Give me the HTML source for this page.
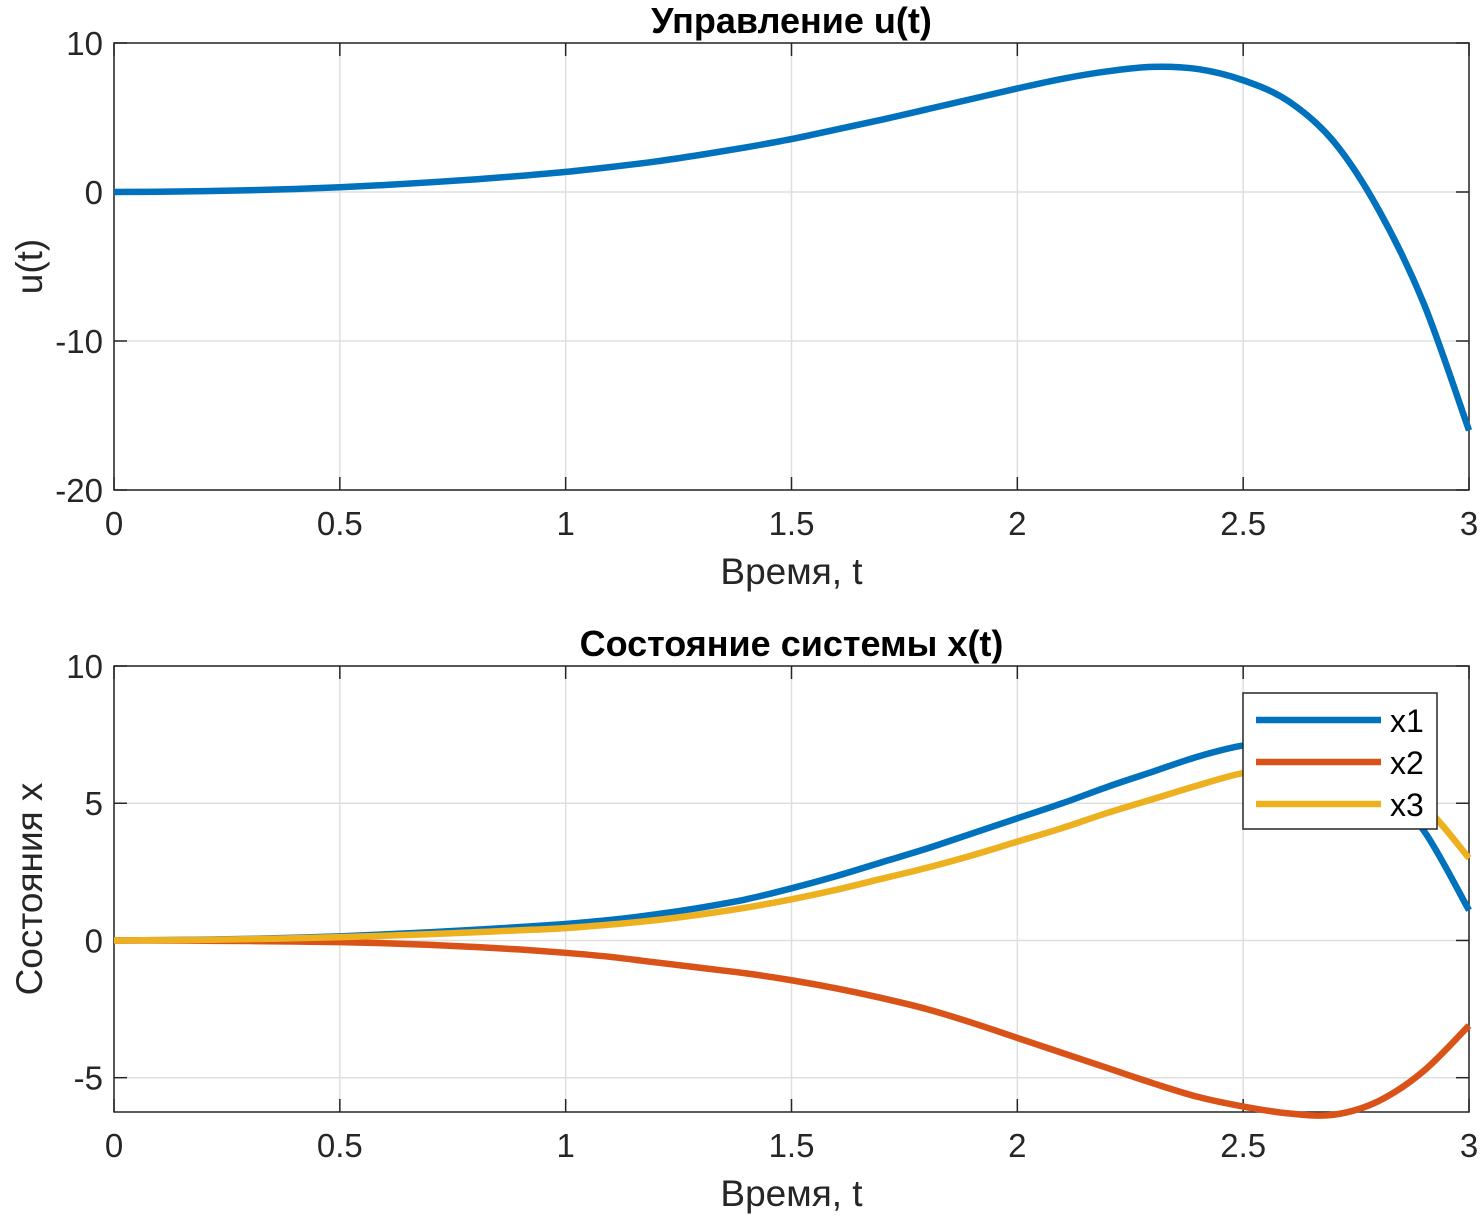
<!DOCTYPE html>
<html><head><meta charset="utf-8"><style>
body{margin:0;background:#fff}
svg text{font-family:"Liberation Sans","DejaVu Sans",sans-serif;fill:#262626}
</style></head><body>
<svg id="c" width="1481" height="1218" xmlns="http://www.w3.org/2000/svg"></svg>
<script>
const tVals=[0,0.1,0.2,0.3,0.4,0.5,0.6,0.7,0.8,0.9,1.0,1.1,1.2,1.3,1.4,1.5,1.6,1.7,1.8,1.9,2.0,2.1,2.2,2.3,2.4,2.5,2.6,2.7,2.8,2.9,3.0];
const uVals=[0,0.02,0.06,0.12,0.2,0.32,0.47,0.65,0.85,1.08,1.35,1.68,2.05,2.5,3.0,3.55,4.2,4.85,5.55,6.25,6.95,7.6,8.1,8.4,8.25,7.5,6.1,3.4,-1.2,-7.5,-16];
const x1Vals=[0,0.01,0.03,0.06,0.1,0.15,0.22,0.3,0.39,0.49,0.6,0.75,0.95,1.2,1.5,1.9,2.35,2.85,3.35,3.9,4.45,5.0,5.6,6.15,6.7,7.1,7.2,6.8,5.8,4.0,1.1];
const x2Vals=[0,0,-0.01,-0.02,-0.04,-0.06,-0.1,-0.16,-0.24,-0.33,-0.45,-0.6,-0.8,-1.0,-1.2,-1.45,-1.75,-2.1,-2.5,-3.0,-3.55,-4.1,-4.65,-5.2,-5.7,-6.05,-6.3,-6.35,-5.85,-4.75,-3.1];
const x3Vals=[0,0.01,0.02,0.05,0.08,0.12,0.17,0.23,0.3,0.37,0.45,0.58,0.74,0.95,1.2,1.5,1.85,2.25,2.65,3.1,3.6,4.1,4.65,5.15,5.65,6.1,6.25,6.2,5.8,4.9,3.0];
const xTicks=[0,0.5,1,1.5,2,2.5,3];
const uTicks=[10,0,-10,-20];
const sTicks=[10,5,0,-5];
const svg=document.getElementById('c');
const NS='http://www.w3.org/2000/svg';
function mk(tag,attrs,name,parent){const e=document.createElementNS(NS,tag);for(const k in attrs)e.setAttribute(k,attrs[k]);


(parent||svg).appendChild(e);return e;}
function txt(s,attrs,name){const e=mk('text',attrs,name);e.textContent=s;return e;}
const L=114,R=1469;
const sx=t=>L+(t-0)/3*(R-L);
function pathD(xs,ys,fx,fy){const p=xs.map((t,i)=>[fx(t),fy(ys[i])]);let d='M'+p[0][0]+','+p[0][1];
for(let i=0;i<p.length-1;i++){const p0=p[Math.max(0,i-1)],p1=p[i],p2=p[i+1],p3=p[Math.min(p.length-1,i+2)];
d+=' C'+(p1[0]+(p2[0]-p0[0])/6)+','+(p1[1]+(p2[1]-p0[1])/6)+' '+(p2[0]-(p3[0]-p1[0])/6)+','+(p2[1]-(p3[1]-p1[1])/6)+' '+p2[0]+','+p2[1];}return d;}
function axes(top,bot,ymin,ymax,yt,prefix,title,ylabel){
 const sy=v=>bot-(v-ymin)/(ymax-ymin)*(bot-top);
 mk('rect',{x:L,y:top,width:R-L,height:bot-top,fill:'#fff'},prefix+'-plot-area');
 xTicks.forEach(t=>{mk('line',{x1:sx(t),x2:sx(t),y1:top,y2:bot,stroke:'#dfdfdf','stroke-width':1.5},prefix+'-x-grid');});
 yt.forEach(v=>{mk('line',{x1:L,x2:R,y1:sy(v),y2:sy(v),stroke:'#dfdfdf','stroke-width':1.5},prefix+'-y-grid');});
 mk('rect',{x:L,y:top,width:R-L,height:bot-top,fill:'none',stroke:'#262626','stroke-width':1.5},prefix+'-axes-box');
 xTicks.forEach(t=>{mk('line',{x1:sx(t),x2:sx(t),y1:bot,y2:bot-13,stroke:'#262626','stroke-width':1.5},prefix+'-x-tick');
  mk('line',{x1:sx(t),x2:sx(t),y1:top,y2:top+13,stroke:'#262626','stroke-width':1.5},prefix+'-x-tick-top');
  txt(String(t),{x:sx(t),y:bot+45,'font-size':33,'text-anchor':'middle'},prefix+'-x-tick-label');});
 yt.forEach(v=>{mk('line',{x1:L,x2:L+13,y1:sy(v),y2:sy(v),stroke:'#262626','stroke-width':1.5},prefix+'-y-tick');
  mk('line',{x1:R,x2:R-13,y1:sy(v),y2:sy(v),stroke:'#262626','stroke-width':1.5},prefix+'-y-tick-right');
  txt(String(v),{x:L-11,y:sy(v)+12,'font-size':33,'text-anchor':'end'},prefix+'-y-tick-label');});
 txt(title,{x:(L+R)/2,y:top-10,'font-size':36,'font-weight':'bold','text-anchor':'middle',style:'fill:#000'},prefix+'-title');
 txt('Время, t',{x:(L+R)/2,y:bot+94,'font-size':37,'text-anchor':'middle'},prefix+'-x-axis-title');
 txt(ylabel,{x:0,y:0,'font-size':37,'text-anchor':'middle',transform:'translate(42,'+((top+bot)/2)+') rotate(-90)'},prefix+'-y-axis-title');
 return sy;}
const sy1=axes(43,490,-20,10,uTicks,'top','Управление u(t)','u(t)');
mk('path',{d:pathD(tVals,uVals,sx,sy1),fill:'none',stroke:'#0072BD','stroke-width':6.5},'u-line');
const sy2=axes(666,1112,-6.25,10,sTicks,'bottom','Состояние системы x(t)','Состояния x');
const cols=['#0072BD','#D95319','#EDB120'];
[x1Vals,x2Vals,x3Vals].forEach((v,i)=>{mk('path',{d:pathD(tVals,v,sx,sy2),fill:'none',stroke:cols[i],'stroke-width':6.5},'x'+(i+1)+'-line');});
mk('rect',{x:1243,y:693,width:194,height:136,fill:'#fff',stroke:'#262626','stroke-width':1.5},'legend-box');
['x1','x2','x3'].forEach((n,i)=>{const y=720+i*42;
 mk('line',{x1:1256,x2:1381,y1:y,y2:y,stroke:cols[i],'stroke-width':6.5},'legend-entry-'+n+'-line');
 txt(n,{x:1390,y:y+12,'font-size':32,style:'fill:#000'},'legend-entry-'+n+'-label');});
</script>
</body></html>
